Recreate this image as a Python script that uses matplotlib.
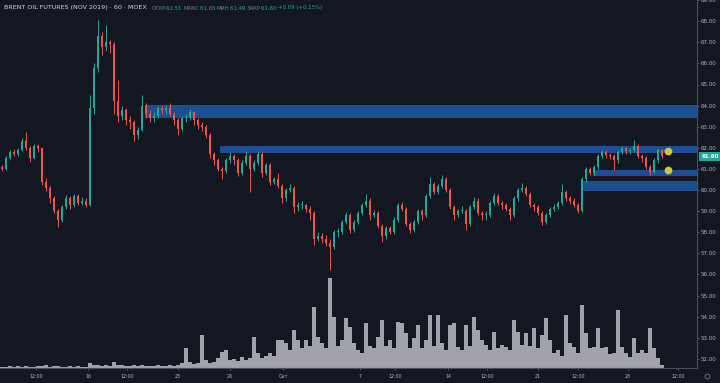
import matplotlib
matplotlib.use('Agg')
import matplotlib.pyplot as plt
from matplotlib.patches import Rectangle

# ---------------- data (~4 hourly bars per candle) ----------------
first_open = 61.1
closes = [61.0, 61.5, 61.8, 61.7, 61.9, 62.3, 62.0, 61.5, 62.1, 62.0,
          60.4, 60.1, 59.6, 59.0, 58.6, 59.2, 59.6, 59.3, 59.7, 59.4,
          59.5, 59.3, 63.9, 65.8, 67.3, 66.8, 67.0, 66.9, 64.2, 63.5,
          63.8, 63.3, 63.2, 62.6, 62.85, 64.0, 63.6, 63.4, 63.5, 63.9,
          63.8, 63.9, 63.6, 63.3, 62.9, 63.4, 63.4, 63.7, 63.3, 63.1,
          63.0, 62.6, 61.7, 61.4, 61.0, 60.9, 61.4, 61.6, 61.4, 60.8,
          61.3, 61.6, 61.0, 61.3, 61.7, 60.8, 61.2, 60.4, 60.5, 60.2,
          59.6, 60.0, 60.1, 59.2, 59.3, 59.3, 59.1, 58.9, 57.7, 57.8,
          57.7, 57.5, 57.3, 58.0, 58.0, 58.5, 58.8, 58.1, 58.5, 58.9,
          59.3, 59.5, 58.8, 58.9, 58.3, 57.8, 58.2, 58.0, 58.6, 59.3,
          59.1, 58.4, 58.1, 58.5, 59.0, 58.8, 59.7, 60.3, 59.9, 60.2,
          60.5, 60.0, 59.2, 58.8, 59.0, 59.0, 58.4, 59.2, 59.5, 58.9,
          58.8, 58.8, 59.4, 59.7, 59.4, 59.3, 59.1, 58.8, 59.6, 60.0,
          60.1, 59.8, 59.3, 59.2, 58.9, 58.5, 58.8, 59.1, 59.2, 59.4,
          59.9, 59.6, 59.5, 59.3, 59.0, 60.5, 61.0, 60.8, 61.1, 61.6,
          61.8, 61.65, 61.6, 61.4, 61.8, 62.0, 61.85, 61.9, 62.1, 61.6,
          61.5, 61.1, 60.85, 61.4, 61.9, 61.6]
highs = [61.2, 61.6, 61.9, 61.95, 62.0, 62.45, 62.75, 62.1, 62.2, 62.2,
         62.05, 60.55, 60.2, 59.7, 59.1, 59.3, 59.75, 59.7, 59.8, 59.8,
         59.65, 59.6, 64.5, 66.0, 68.05, 67.5, 67.8, 67.1, 67.0, 65.2,
         64.0, 63.9, 63.5, 63.3, 63.0, 64.5, 64.1, 63.8, 63.7, 64.0,
         64.0, 64.05, 64.1, 63.7, 63.4, 63.5, 63.6, 63.85, 63.75, 63.4,
         63.2, 63.1, 62.7, 61.8, 61.5, 61.1, 61.5, 61.8, 61.7, 61.5,
         61.4, 61.85, 61.7, 61.4, 61.85, 61.8, 61.3, 61.3, 60.6, 60.8,
         60.3, 60.1, 60.3, 60.2, 59.45, 59.5, 59.35, 59.25, 59.0, 58.0,
         57.95, 57.85, 57.7, 58.1, 58.2, 58.6, 58.95, 58.9, 58.6, 59.0,
         59.4, 59.8, 59.6, 59.05, 59.0, 58.4, 58.3, 58.3, 58.7, 59.4,
         59.45, 59.2, 58.5, 58.6, 59.1, 59.1, 59.8, 60.6, 60.4, 60.3,
         60.7, 60.6, 60.1, 59.3, 59.1, 59.25, 59.1, 59.3, 59.65, 59.6,
         59.0, 59.0, 59.5, 59.85, 59.8, 59.5, 59.4, 59.2, 59.7, 60.1,
         60.35, 60.2, 59.9, 59.4, 59.3, 59.0, 58.9, 59.2, 59.35, 59.5,
         60.3, 60.0, 59.7, 59.6, 59.4, 60.6, 61.1, 61.1, 61.2, 61.7,
         61.9, 61.9, 61.75, 61.7, 61.9, 62.1, 62.05, 62.0, 62.35, 62.2,
         61.7, 61.6, 61.2, 61.5, 62.0, 61.95]
lows = [60.9, 60.95, 61.45, 61.6, 61.6, 61.85, 61.9, 61.35, 61.45, 61.8,
        60.25, 59.95, 59.4, 58.9, 58.25, 58.5, 59.1, 59.1, 59.2, 59.3,
        59.3, 59.2, 59.25, 63.6, 65.6, 66.4, 66.6, 66.5, 63.6, 63.2,
        63.3, 63.1, 62.9, 62.3, 62.4, 62.8, 63.4, 63.2, 63.2, 63.4,
        63.6, 63.6, 63.5, 63.1, 62.6, 62.8, 63.2, 63.3, 63.1, 62.9,
        62.8, 62.45, 61.5, 61.2, 60.9, 60.5, 60.8, 61.3, 61.2, 60.65,
        60.7, 61.2, 59.9, 60.9, 61.2, 60.6, 60.7, 60.25, 60.3, 60.1,
        59.4, 59.5, 59.9, 58.9, 59.0, 59.1, 58.95, 58.6, 57.4, 57.6,
        57.5, 57.35, 56.2, 57.2, 57.75, 57.9, 58.4, 57.95, 58.0, 58.4,
        58.8, 59.2, 58.6, 58.7, 58.2, 57.55, 57.7, 57.9, 57.9, 58.5,
        59.0, 58.3, 57.95, 58.0, 58.4, 58.6, 58.7, 59.6, 59.8, 59.8,
        60.1, 59.9, 59.1, 58.6, 58.7, 58.9, 58.1, 58.3, 59.1, 58.8,
        58.6, 58.6, 58.7, 59.3, 59.3, 59.1, 59.0, 58.6, 58.7, 59.5,
        59.9, 59.7, 59.2, 59.0, 58.8, 58.35, 58.4, 58.7, 59.0, 59.1,
        59.3, 59.5, 59.35, 59.2, 58.9, 58.95, 60.4, 60.7, 60.7, 61.0,
        61.5, 61.5, 61.45, 60.95, 61.3, 61.7, 61.7, 61.7, 61.8, 61.5,
        61.35, 61.0, 60.7, 60.8, 61.3, 61.5]
volumes = [1, 1, 2, 1, 2, 1, 2, 1, 1, 2, 2, 3, 1, 2, 2, 1, 1, 2, 1, 2,
           1, 1, 5, 3, 3, 2, 3, 2, 6, 3, 3, 2, 2, 3, 2, 3, 2, 2, 2, 3,
           2, 2, 3, 2, 3, 5, 20, 6, 4, 5, 33, 8, 5, 6, 10, 16, 18, 8, 9, 7,
           11, 8, 10, 31, 15, 10, 12, 15, 12, 28, 28, 25, 18, 38, 28, 20, 28, 22, 61, 31,
           25, 20, 90, 51, 22, 28, 50, 41, 25, 18, 15, 45, 22, 20, 31, 48, 22, 28, 20, 46,
           45, 35, 20, 30, 43, 20, 28, 53, 22, 53, 25, 18, 43, 45, 21, 18, 43, 22, 51, 38,
           28, 23, 18, 36, 20, 23, 21, 18, 48, 36, 23, 35, 22, 40, 20, 33, 50, 28, 15, 18,
           12, 53, 25, 21, 15, 63, 35, 20, 21, 40, 20, 21, 14, 15, 58, 21, 15, 11, 30, 15,
           18, 15, 40, 20, 10, 3]

# support / resistance zones: (start bar, low price, high price)
zone_start = [35.75, 54.5, 147.75, 145.25]
zone_low = [63.40, 61.75, 60.68, 59.95]
zone_high = [64.03, 62.08, 60.96, 60.43]

dot_prices = [61.87, 60.95]
dot_bar = 166.5

price_ticks = list(range(52, 70))
time_tick_bars = [8.5, 21.5, 31.25, 44.0, 57.0, 70.25, 89.5, 98.25, 111.5, 121.25, 134.0, 144.0, 156.5, 169.0]
time_tick_labels = ["12:00", "16", "12:00", "23", "26", "Окт", "7", "12:00", "14", "12:00",
                    "21", "12:00", "28", "12:00"]

title = "BRENT OIL FUTURES (NOV 2019) · 60 · MOEX"
ohlc_names = ["ОТКР", "МАКС", "МИН", "ЗАКР"]
ohlc_values = [61.51, 61.65, 61.49, 61.60]
change_text = "+0.09 (+0.15%)"
last_price = 61.60

opens = [first_open] + closes[:-1]

# ---------------- styling ----------------
BG = '#131722'
UP = '#26a69a'
DN = '#ef5350'
VOL = '#a2a3aa'
ZONE = '#1d4e8f'
AXC = '#4a4e5a'
TXT = '#b2b5be'

W, H = 720, 383
PLOT_W, PLOT_H = 697, 368
PX_PER_BAR = 4.0
PX_PER_DOLLAR = 21.1
Y60 = 190.0

fig = plt.figure(figsize=(W / 100, H / 100), dpi=100)
fig.patch.set_facecolor(BG)
pos = [0, (H - PLOT_H) / H, PLOT_W / W, PLOT_H / H]
axv = fig.add_axes(pos)
ax = fig.add_axes(pos)

xmin = -0.5
xmax = xmin + PLOT_W / PX_PER_BAR
ymax = 60 + Y60 / PX_PER_DOLLAR
ymin = 60 - (PLOT_H - Y60) / PX_PER_DOLLAR

# volume pane
axv.set_facecolor(BG)
n = len(closes)
xs = list(range(n))
axv.bar(xs, volumes, width=0.8, color=VOL, linewidth=0)
axv.set_xlim(xmin, xmax)
axv.set_ylim(0, PLOT_H)
axv.axis('off')

# price pane
ax.patch.set_visible(False)
ax.set_xlim(xmin, xmax)
ax.set_ylim(ymin, ymax)

for s, lo, hi in zip(zone_start, zone_low, zone_high):
    ax.add_patch(Rectangle((s, lo), xmax - s, hi - lo, facecolor=ZONE, edgecolor='none', zorder=1))

cols = [UP if c >= o else DN for o, c in zip(opens, closes)]
ax.vlines(xs, lows, highs, colors=cols, linewidth=0.7, zorder=3)
bottoms = [min(o, c) for o, c in zip(opens, closes)]
heights = [max(abs(c - o), 0.04) for o, c in zip(opens, closes)]
ax.bar(xs, heights, bottom=bottoms, width=0.55, color=cols, linewidth=0, zorder=4)

ax.plot([dot_bar] * len(dot_prices), dot_prices, 'o', color='#c8c83e', markersize=5.6,
        markeredgewidth=0, zorder=5)

# axes decoration
for sp in ['top', 'left']:
    ax.spines[sp].set_visible(False)
ax.spines['right'].set_color(AXC)
ax.spines['bottom'].set_color(AXC)
ax.spines['right'].set_linewidth(0.8)
ax.spines['bottom'].set_linewidth(0.8)
ax.yaxis.tick_right()
ax.set_yticks(price_ticks)
ax.set_yticklabels([f"{v:.2f}" for v in price_ticks])
ax.tick_params(axis='y', length=1.6, width=0.5, color='#787b86', labelcolor=TXT,
               labelsize=4.0, pad=1.0)
ax.set_xticks(time_tick_bars)
ax.set_xticklabels(time_tick_labels)
ax.tick_params(axis='x', length=1.2, width=0.5, color='#787b86', labelcolor=TXT,
               labelsize=3.4, pad=3.2)

# last price label
ax.annotate(f"{last_price:.2f}", xy=(1.0, last_price), xycoords=('axes fraction', 'data'),
            xytext=(3.0, 0), textcoords='offset points', ha='left', va='center',
            fontsize=4.0, color='white', fontweight='bold',
            bbox=dict(boxstyle='square,pad=0.4', facecolor=UP, edgecolor='none'),
            annotation_clip=False, zorder=10)

# gear icon in corner
fig.add_artist(plt.Line2D([707 / W], [1 - 376 / H], marker='o', markersize=3.6,
                          markerfacecolor='none', markeredgecolor='#787b86',
                          markeredgewidth=0.6, transform=fig.transFigure))

# header text
renderer = fig.canvas.get_renderer()


def fit_text(x_px, y_px, text, color, target_w, size0=5.0, weight='normal'):
    t = fig.text(x_px / W, 1 - y_px / H, text, color=color, fontsize=size0,
                 ha='left', va='center', fontweight=weight)
    w = t.get_window_extent(renderer).width
    t.set_fontsize(size0 * target_w / w)
    return t


fit_text(4, 8, title, '#d1d4dc', 143)

pieces = []
for name, val in zip(ohlc_names, ohlc_values):
    pieces.append((name, '#787b86'))
    pieces.append((f"{val:.2f} ", UP))
pieces.append((change_text, UP))
base = 5.0
tmp = [fig.text(0, 0, p, fontsize=base) for p, _ in pieces]
widths = [t.get_window_extent(renderer).width for t in tmp]
for t in tmp:
    t.remove()
scale = 171.0 / sum(widths)
x = 152.0
for (p, c), w in zip(pieces, widths):
    fig.text(x / W, 1 - 8 / H, p, color=c, fontsize=base * scale, ha='left', va='center')
    x += w * scale

fig.savefig('out.png', dpi=100, facecolor=BG)
